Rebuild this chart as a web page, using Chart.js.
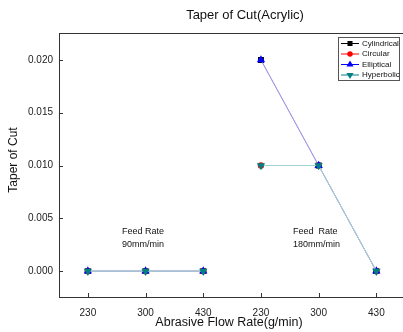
<!DOCTYPE html>
<html><head><meta charset="utf-8">
<script src="https://cdn.jsdelivr.net/npm/chart.js"></script>
<style>html,body{margin:0;padding:0;background:#fff;overflow:hidden}#wrap{width:410px;height:332px}</style>
</head><body><div id="wrap"><canvas id="c" width="410" height="332"></canvas></div>
<script>
const categories = ['230','300','430','230','300','430'];
const cylindrical = [0, 0, 0, 0.020, 0.010, 0];
const circular    = [0, 0, 0, 0.010, 0.010, 0];
const elliptical  = [0, 0, 0, 0.020, 0.010, 0];
const hyperbolic  = [0, 0, 0, 0.010, 0.010, 0];
const yTickValues = [0, 0.005, 0.010, 0.015, 0.020];
const seriesNames = ['Cylindrical','Circular','Elliptical','Hyperbolic'];
const chartTitle = 'Taper of Cut(Acrylic)';
const xTitle = 'Abrasive Flow Rate(g/min)';
const yTitle = 'Taper of Cut';
const notes = [['Feed Rate','90mm/min'],['Feed  Rate','180mm/min']];

const FONT = '"Liberation Sans", Arial, sans-serif';
const styles = [
  {line:'#bbbbbb', leg:'#000000', fill:'#000000', pt:'rect', rot:0, r:4.2},
  {line:'#f0b0b0', leg:'#ff0000', fill:'#ff0000', pt:'circle', rot:0, r:3.2},
  {line:'#9c94ee', leg:'#0000ff', fill:'#0000ff', pt:'triangle', rot:0, r:4.8},
  {line:'#9fd4d4', leg:'#008080', fill:'#008080', pt:'triangle', rot:180, r:4.8}
];
const series = [cylindrical, circular, elliptical, hyperbolic];

const datasets = series.map((d,i)=>({
  label: seriesNames[i],
  data: d,
  order: 4-i,
  borderColor: styles[i].line,
  borderWidth: 1,
  backgroundColor: styles[i].fill,
  pointBackgroundColor: styles[i].fill,
  pointBorderColor: styles[i].fill,
  pointBorderWidth: 0,
  pointStyle: styles[i].pt,
  pointRotation: styles[i].rot,
  pointRadius: styles[i].r,
  tension: 0,
  segment: { borderColor: ctx => ctx.p0DataIndex === 2 ? 'rgba(0,0,0,0)' : undefined }
}));

const decor = {
  id: 'decor',
  afterDraw(chart){
    const {ctx, chartArea:a, scales} = chart;
    ctx.save();
    ctx.strokeStyle = '#333'; ctx.lineWidth = 1;
    ctx.strokeRect(Math.round(a.left)+0.5, Math.round(a.top)+0.5, Math.round(a.right-a.left), Math.round(a.bottom-a.top));
    ctx.beginPath();
    yTickValues.forEach(v=>{ const y = Math.round(scales.y.getPixelForValue(v))+0.5; ctx.moveTo(a.left, y); ctx.lineTo(a.left+4, y); });
    categories.forEach((c,i)=>{ const x = Math.round(scales.x.getPixelForValue(i))+0.5; ctx.moveTo(x, a.bottom); ctx.lineTo(x, a.bottom-4); });
    ctx.stroke();
    ctx.fillStyle = '#111';
    ctx.textAlign = 'center'; ctx.textBaseline = 'middle';
    ctx.font = '13px ' + FONT;
    ctx.fillText(chartTitle, 245, 15);
    ctx.font = '12.5px ' + FONT;
    ctx.fillText(xTitle, 229, 323);
    ctx.font = '12px ' + FONT;
    ctx.save(); ctx.translate(14, 160); ctx.rotate(-Math.PI/2); ctx.fillText(yTitle, 0, 0); ctx.restore();
    ctx.font = '9px ' + FONT; ctx.textAlign = 'left'; ctx.fillStyle = '#111';
    ctx.fillText(notes[0][0], 122, 232); ctx.fillText(notes[0][1], 122, 245);
    ctx.fillText(notes[1][0], 293, 232); ctx.fillText(notes[1][1], 293, 245);
    const lx = 338, ly = 37, lw = 61, lh = 43;
    ctx.strokeStyle = '#555'; ctx.lineWidth = 1;
    ctx.strokeRect(lx+0.5, ly+0.5, lw, lh);
    ctx.font = '8px ' + FONT; ctx.textBaseline = 'middle';
    seriesNames.forEach((n,i)=>{
      const y = ly + 6 + i*10.5;
      ctx.strokeStyle = styles[i].leg; ctx.lineWidth = 1;
      ctx.beginPath(); ctx.moveTo(lx+3, y+0.5); ctx.lineTo(lx+21, y+0.5); ctx.stroke();
      ctx.fillStyle = styles[i].fill;
      Chart.helpers.drawPoint(ctx, {pointStyle: styles[i].pt, rotation: styles[i].rot, radius: styles[i].r*0.85, borderWidth: 0}, lx+12, y+0.5);
      ctx.fillStyle = '#111';
      ctx.fillText(n, lx+24, y+0.5);
    });
    ctx.restore();
  }
};

new Chart(document.getElementById('c'), {
  type: 'line',
  data: { labels: categories, datasets },
  options: {
    responsive: false, animation: false,
    layout: { padding: { top: 33, right: 4, left: 0, bottom: 0 } },
    plugins: { legend: { display: false }, title: { display: false }, tooltip: { enabled: false } },
    scales: {
      x: {
        type: 'category', offset: true,
        grid: { display: false, drawTicks: false }, border: { display: false },
        ticks: { color: '#222', font: { size: 10, family: FONT }, padding: 10, maxRotation: 0, autoSkip: false },
        afterFit: s => { s.height = 35; }
      },
      y: {
        min: -0.00245, max: 0.02255,
        grid: { display: false, drawTicks: false }, border: { display: false },
        afterBuildTicks: s => { s.ticks = yTickValues.map(v => ({ value: v })); },
        ticks: { color: '#222', font: { size: 10, family: FONT }, padding: 6, callback: v => Number(v).toFixed(3) },
        afterFit: s => { s.width = 59; }
      }
    }
  },
  plugins: [decor]
});
</script></body></html>
